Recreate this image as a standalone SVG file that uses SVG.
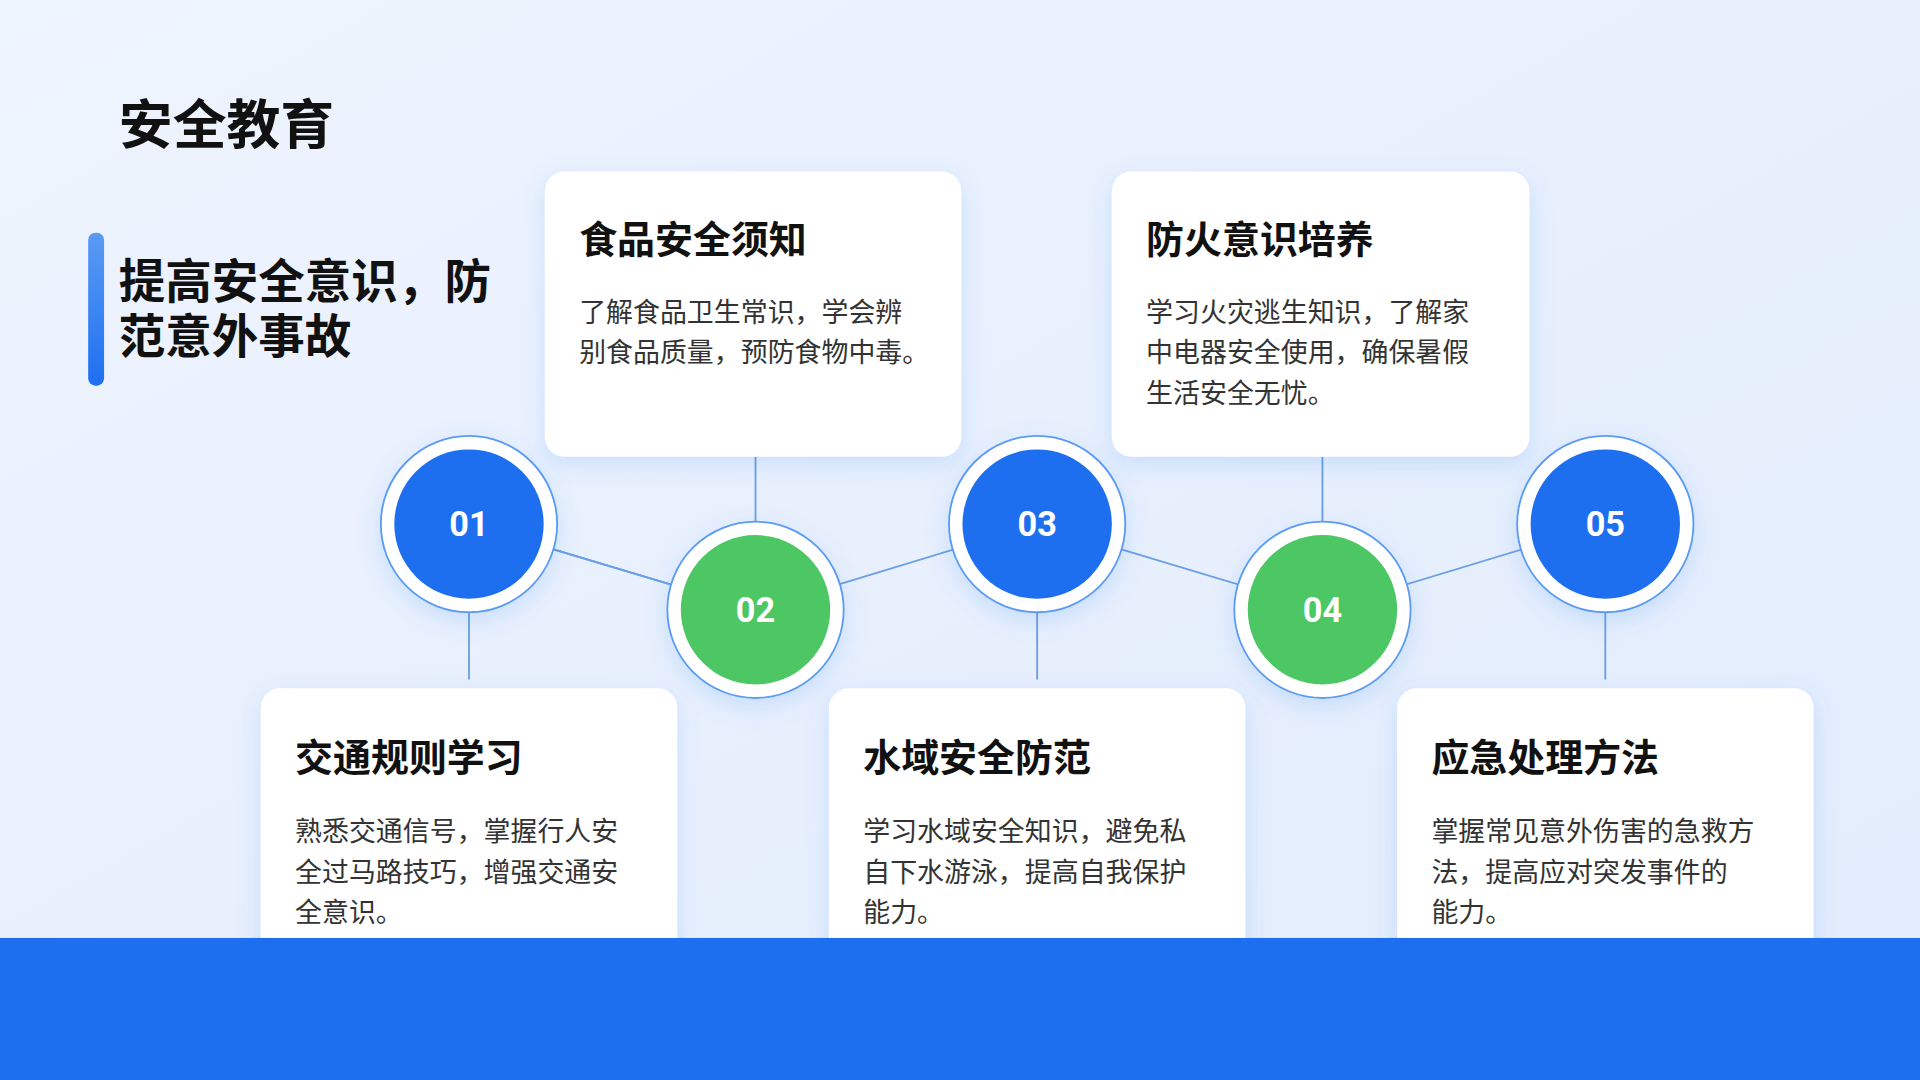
<svg xmlns="http://www.w3.org/2000/svg" width="1920" height="1080" viewBox="0 0 1920 1080">
<defs>
<linearGradient id="bg" x1="0" y1="0" x2="1" y2="1"><stop offset="0" stop-color="#eef4fe"/><stop offset="1" stop-color="#e2ecfc"/></linearGradient>
<linearGradient id="bar" x1="0" y1="0" x2="0" y2="1"><stop offset="0" stop-color="#5b9bf5"/><stop offset="1" stop-color="#1e6ff0"/></linearGradient>
<filter id="sh" x="-20%" y="-20%" width="140%" height="150%"><feDropShadow dx="0" dy="6" stdDeviation="10" flood-color="#1e6ff0" flood-opacity="0.15"/></filter>
<style>
.card{fill:#fff;filter:url(#sh)}
.ct{font-family:"Noto Sans CJK SC",sans-serif;font-weight:700;font-size:31px;fill:#111}
.cb{font-family:"Noto Sans CJK SC",sans-serif;font-size:22px;fill:#333}
.ring{fill:#fff;stroke:#5b9bf5;stroke-width:1.5;filter:url(#sh)}
.num{font-family:Roboto,"Liberation Sans",sans-serif;font-weight:700;font-size:28px;fill:#fff;text-anchor:middle}
.ln{stroke:#6a9fe8;stroke-width:1.5;fill:none}
</style>
</defs>
<rect width="1920" height="1080" fill="url(#bg)"/>
<g transform="scale(1.22449)">
<text x="97" y="118" font-family="Noto Sans CJK SC,sans-serif" font-weight="700" font-size="44" fill="#111">安全教育</text>
<rect x="72" y="190" width="13" height="125" rx="6" fill="url(#bar)"/>
<text font-family="Noto Sans CJK SC,sans-serif" font-weight="700" font-size="38" fill="#111"><tspan x="97" y="243">提高安全意识，防</tspan><tspan x="97" y="288">范意外事故</tspan></text>
<g id="connectors">
<line class="ln" x1="383" y1="428" x2="617" y2="498"/>
<line class="ln" x1="383" y1="428" x2="617" y2="498" stroke-opacity="0"/>
<polyline class="ln" points="383,428 617,498 847,428 1080,498 1311,428"/>
<line class="ln" x1="383" y1="428" x2="383" y2="555"/>
<line class="ln" x1="617" y1="498" x2="617" y2="373"/>
<line class="ln" x1="847" y1="428" x2="847" y2="555"/>
<line class="ln" x1="1080" y1="498" x2="1080" y2="373"/>
<line class="ln" x1="1311" y1="428" x2="1311" y2="555"/>
</g>
<g id="card2"><rect class="card" x="445" y="140" width="340" height="233" rx="16"/>
<text class="ct" x="473" y="207">食品安全须知</text>
<text class="cb"><tspan x="473" y="263">了解食品卫生常识，学会辨</tspan><tspan x="473" y="296">别食品质量，预防食物中毒。</tspan></text></g>
<g id="card4"><rect class="card" x="908" y="140" width="341" height="233" rx="16"/>
<text class="ct" x="936" y="207">防火意识培养</text>
<text class="cb"><tspan x="936" y="263">学习火灾逃生知识，了解家</tspan><tspan x="936" y="296">中电器安全使用，确保暑假</tspan><tspan x="936" y="329">生活安全无忧。</tspan></text></g>
<g id="card1"><rect class="card" x="213" y="562" width="340" height="260" rx="16"/>
<text class="ct" x="241" y="630">交通规则学习</text>
<text class="cb"><tspan x="241" y="687">熟悉交通信号，掌握行人安</tspan><tspan x="241" y="720">全过马路技巧，增强交通安</tspan><tspan x="241" y="753">全意识。</tspan></text></g>
<g id="card3"><rect class="card" x="677" y="562" width="340" height="260" rx="16"/>
<text class="ct" x="705" y="630">水域安全防范</text>
<text class="cb"><tspan x="705" y="687">学习水域安全知识，避免私</tspan><tspan x="705" y="720">自下水游泳，提高自我保护</tspan><tspan x="705" y="753">能力。</tspan></text></g>
<g id="card5"><rect class="card" x="1141" y="562" width="340" height="260" rx="16"/>
<text class="ct" x="1169" y="630">应急处理方法</text>
<text class="cb"><tspan x="1169" y="687">掌握常见意外伤害的急救方</tspan><tspan x="1169" y="720">法，提高应对突发事件的</tspan><tspan x="1169" y="753">能力。</tspan></text></g>
<g id="n01"><circle class="ring" cx="383" cy="428" r="72"/><circle cx="383" cy="428" r="61" fill="#1e6ff0"/><text class="num" x="383" y="438">01</text></g>
<g id="n02"><circle class="ring" cx="617" cy="498" r="72"/><circle cx="617" cy="498" r="61" fill="#4cc764"/><text class="num" x="617" y="508">02</text></g>
<g id="n03"><circle class="ring" cx="847" cy="428" r="72"/><circle cx="847" cy="428" r="61" fill="#1e6ff0"/><text class="num" x="847" y="438">03</text></g>
<g id="n04"><circle class="ring" cx="1080" cy="498" r="72"/><circle cx="1080" cy="498" r="61" fill="#4cc764"/><text class="num" x="1080" y="508">04</text></g>
<g id="n05"><circle class="ring" cx="1311" cy="428" r="72"/><circle cx="1311" cy="428" r="61" fill="#1e6ff0"/><text class="num" x="1311" y="438">05</text></g>
<rect x="0" y="766" width="1568" height="116" fill="#1e6ff0"/>
</g>
</svg>
